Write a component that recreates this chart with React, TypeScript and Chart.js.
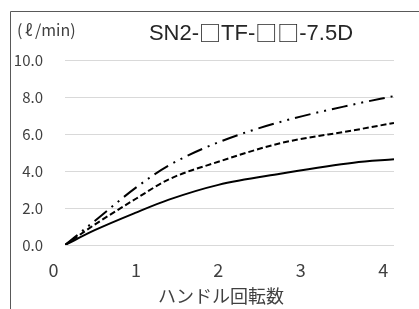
import React, { useEffect, useRef } from "react";
import { Chart, registerables } from "chart.js";

Chart.register(...registerables);

const rotations = [0.14, 0.5, 1.0, 1.4, 2.0, 2.75, 3.64, 4.13];
const solidFlow = [0, 0.8, 1.75, 2.45, 3.25, 3.85, 4.45, 4.63];
const dashedFlow = [0, 1.1, 2.5, 3.55, 4.5, 5.5, 6.2, 6.6];
const dashDotFlow = [0, 1.3, 3.1, 4.3, 5.55, 6.65, 7.6, 8.05];
const xTickValues = [0, 1, 2, 3, 4];
const titleParts = ["SN2-", "□", "TF-", "□", "□", "-7.5D"];
const unitParts = ["(", "ℓ", "/min)"];
const xAxisTitle = "ハンドル回転数";

const FONT = "'Noto Sans CJK JP', 'Noto Sans', sans-serif";
const TITLE_FONT = "22px 'Liberation Sans', sans-serif";
const BOX_FONT = "22px 'Noto Sans CJK JP', sans-serif";

const toPoints = (ys: number[]) => rotations.map((x, i) => ({ x, y: ys[i] }));

const decorPlugin = {
  id: "decor",
  afterDraw(chart: any) {
    const ctx = chart.ctx;
    ctx.save();
    // frame
    ctx.strokeStyle = "#595959";
    ctx.lineWidth = 1;
    ctx.beginPath();
    ctx.moveTo(10.5, 309);
    ctx.lineTo(10.5, 11.5);
    ctx.lineTo(419, 11.5);
    ctx.stroke();
    // title (boxes drawn with a CJK font so they are full-width)
    ctx.fillStyle = "#262626";
    ctx.textBaseline = "middle";
    ctx.textAlign = "left";
    const fontFor = (p: string) => (p === "□" ? BOX_FONT : TITLE_FONT);
    let total = 0;
    const widths = titleParts.map((p) => {
      ctx.font = fontFor(p);
      const w = ctx.measureText(p).width;
      total += w;
      return w;
    });
    let x = 251 - total / 2;
    titleParts.forEach((p, i) => {
      ctx.font = fontFor(p);
      ctx.fillText(p, x, p === "□" ? 33 : 34);
      x += widths[i];
    });
    // unit
    ctx.fillStyle = "#404040";
    ctx.font = `16px ${FONT}`;
    ctx.fillText(unitParts[0], 17, 30);
    ctx.fillText(unitParts[1], 25, 30);
    ctx.fillText(unitParts[2], 35, 30);
    // x axis title
    ctx.font = `18px ${FONT}`;
    ctx.textAlign = "center";
    ctx.fillText(xAxisTitle, 221, 296);
    ctx.restore();
  },
};

export default function App() {
  const ref = useRef<HTMLCanvasElement>(null);
  useEffect(() => {
    if (!ref.current) return;
    const chart = new Chart(ref.current, {
      type: "scatter",
      data: {
        datasets: [
          {
            data: toPoints(solidFlow),
            showLine: true,
            borderColor: "#000",
            borderWidth: 2,
            pointRadius: 0,
            cubicInterpolationMode: "monotone",
          },
          {
            data: toPoints(dashedFlow),
            showLine: true,
            borderColor: "#000",
            borderWidth: 2,
            borderDash: [6, 3],
            pointRadius: 0,
            cubicInterpolationMode: "monotone",
          },
          {
            data: toPoints(dashDotFlow),
            showLine: true,
            borderColor: "#000",
            borderWidth: 2,
            borderDash: [16, 6, 2, 6, 2, 6],
            pointRadius: 0,
            cubicInterpolationMode: "monotone",
          },
        ],
      },
      options: {
        responsive: false,
        animation: false,
        devicePixelRatio: 1,
        layout: { padding: { top: 60, right: 25, bottom: 0, left: 0 } },
        plugins: {
          legend: { display: false },
          tooltip: { enabled: false },
          title: { display: false },
        },
        scales: {
          x: {
            type: "linear",
            min: 0.14,
            max: 4.13,
            afterBuildTicks: (scale: any) => {
              scale.ticks = xTickValues.map((v) => ({ value: v }));
            },
            afterFit: (scale: any) => {
              scale.height = 64;
            },
            grid: { display: false, drawTicks: false },
            border: { display: false },
            ticks: {
              autoSkip: false,
              maxRotation: 0,
              padding: 14,
              color: "#404040",
              font: { family: FONT, size: 18 },
              callback: (v: any) => String(v),
            },
          },
          y: {
            min: 0,
            max: 10,
            afterFit: (scale: any) => {
              scale.width = 65;
            },
            grid: { color: "#d9d9d9", lineWidth: 1, drawTicks: false },
            border: { display: false },
            ticks: {
              stepSize: 2,
              padding: 22,
              color: "#404040",
              font: { family: FONT, size: 15 },
              callback: (v: any) => Number(v).toFixed(1),
            },
          },
        },
      },
      plugins: [decorPlugin],
    });
    return () => chart.destroy();
  }, []);
  return (
    <div style={{ position: "fixed", left: 0, top: 0, width: 419, height: 309, background: "#fff" }}>
      <canvas ref={ref} width={419} height={309} />
    </div>
  );
}
